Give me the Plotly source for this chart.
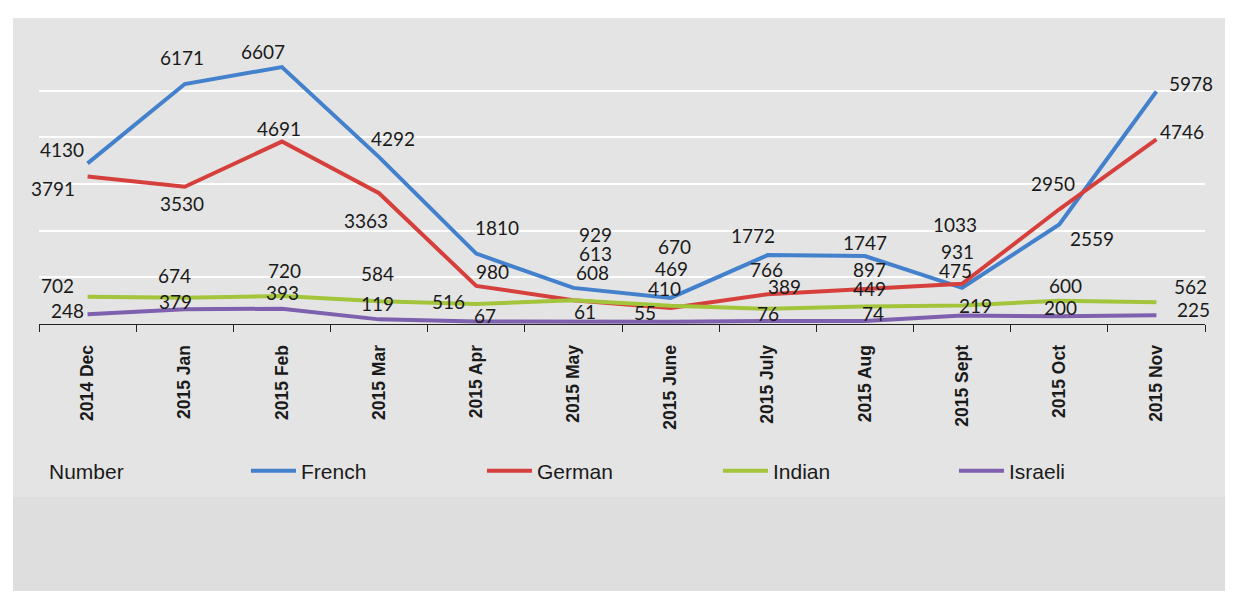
import plotly.graph_objects as go

categories = ["2014 Dec", "2015 Jan", "2015 Feb", "2015 Mar", "2015 Apr", "2015 May",
              "2015 June", "2015 July", "2015 Aug", "2015 Sept", "2015 Oct", "2015 Nov"]

french = [4130, 6171, 6607, 4292, 1810, 929, 670, 1772, 1747, 931, 2559, 5978]
german = [3791, 3530, 4691, 3363, 980, 613, 410, 766, 897, 1033, 2950, 4746]
indian = [702, 674, 720, 584, 516, 608, 469, 389, 449, 475, 600, 562]
israeli = [248, 379, 393, 119, 67, 61, 55, 76, 74, 219, 200, 225]

# label offsets in pixels (dx right, dy down) relative to each point
fr_off = [(-26, -14), (-3, -27), (-19, -16), (14, -19), (21, -26), (22, -53), (4, -51),
          (-15, -20), (0, -14), (-5, -36), (33, 14), (35, -8)]
de_off = [(-35, 12), (-3, 17), (-3, -13), (-13, 27), (16, -14), (22, -47), (-6, -20),
          (-1, -25), (5, -20), (-7, -59), (-6, -26), (26, -8)]
in_off = [(-30, -11), (-10, -22), (3, -26), (-2, -28), (-28, -2), (19, -28), (1, -37),
          (17, -22), (5, -18), (-7, -35), (6, -15), (34, -16)]
il_off = [(-20, -4), (-9, -8), (1, -16), (-2, -16), (9, -6), (12, -10), (-26, -9),
          (0, -8), (8, -8), (13, -10), (1, -9), (37, -6)]

series = [
    ("French", french, "#4381cc", fr_off),
    ("German", german, "#d6403c", de_off),
    ("Indian", indian, "#a3c53c", in_off),
    ("Israeli", israeli, "#7e60ae", il_off),
]

fig = go.Figure()
annotations = []
for name, vals, color, offs in series:
    fig.add_trace(go.Scatter(x=categories, y=vals, name=name, mode="lines",
                             line=dict(color=color, width=4)))
    for c, v, (dx, dy) in zip(categories, vals, offs):
        annotations.append(dict(x=c, y=v, xref="x", yref="y", text=str(v), showarrow=False,
                                xshift=dx, yshift=-dy,
                                font=dict(family="Lato", size=19, color="#1a1a1a")))

annotations.append(dict(x=0.007, y=-0.525, xref="paper", yref="paper", text="Number",
                        showarrow=False, xanchor="left", yanchor="middle",
                        font=dict(family="Liberation Sans", size=21, color="#1a1a1a")))

shapes = [
    dict(type="rect", xref="paper", yref="paper", x0=-0.0223, x1=1.0172, y0=-0.6179, y1=1.0929,
         fillcolor="#e4e4e4", line=dict(width=0), layer="below"),
    dict(type="rect", xref="paper", yref="paper", x0=-0.0223, x1=1.0172, y0=-0.9786, y1=-0.6179,
         fillcolor="#dedede", line=dict(width=0), layer="below"),
]

fig.update_layout(
    width=1221, height=583,
    margin=dict(l=31, r=24, t=36, b=267),
    paper_bgcolor="white",
    plot_bgcolor="rgba(0,0,0,0)",
    showlegend=True,
    legend=dict(orientation="h", x=0.1775, y=-0.525, xanchor="left", yanchor="middle",
                bgcolor="rgba(0,0,0,0)", entrywidth=176, entrywidthmode="pixels",
                font=dict(family="Liberation Sans", size=21, color="#1a1a1a"),
                itemwidth=45),
    annotations=annotations,
    shapes=shapes,
    xaxis=dict(type="category", tickangle=-90, tickson="boundaries", ticks="outside",
               ticklen=7, tickcolor="#222", showline=True, linecolor="#222", linewidth=1,
               showgrid=False, ticklabelstandoff=13,
               tickfont=dict(family="Liberation Sans", size=17.5, color="#1a1a1a", weight="bold"),
               range=[-0.5, 11.5]),
    yaxis=dict(range=[0, 7200], tickvals=[1200, 2400, 3600, 4800, 6000], showticklabels=False,
               showgrid=True, gridcolor="white", gridwidth=2, zeroline=False, showline=False),
)

fig.write_html("out.html")
